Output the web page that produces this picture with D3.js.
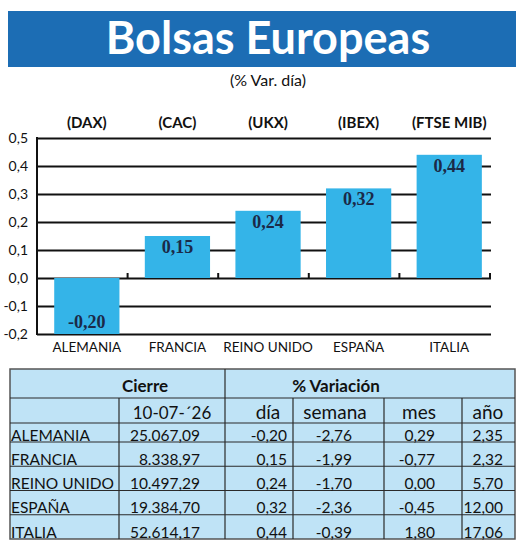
<!DOCTYPE html>
<html>
<head>
<meta charset="utf-8">
<script src="https://cdn.jsdelivr.net/npm/d3@7"></script>
<style>
  body { margin: 0; background: #fff; }
  svg { display: block; }
  .sans { font-family: Lato, "Open Sans", sans-serif; }
</style>
</head>
<body>
<div id="container"></div>
<script>
//******************** DATA ********************//
const paises = ["ALEMANIA", "FRANCIA", "REINO UNIDO", "ESPAÑA", "ITALIA"];
const indices = ["(DAX)", "(CAC)", "(UKX)", "(IBEX)", "(FTSE MIB)"];
const varDia = [-0.20, 0.15, 0.24, 0.32, 0.44];
const yTicks = [-0.2, -0.1, 0.0, 0.1, 0.2, 0.3, 0.4, 0.5];

const fechaCierre = "10-07-´26";
const cierre = [25067.09, 8338.97, 10497.29, 19384.70, 52614.17];
const varSemana = [-2.76, -1.99, -1.70, -2.36, -0.39];
const varMes = [0.29, -0.77, 0.00, -0.45, 1.80];
const varAnio = [2.35, 2.32, 5.70, 12.00, 17.06];
const colHeaders = ["día", "semana", "mes", "año"];

//******************** PREPARING ********************//
const width = 520;
const height = 547;

const es = d3.formatLocale({decimal: ",", thousands: ".", grouping: [3], currency: ["", " €"], minus: "-"});
const f1 = es.format(".1f");
const f2 = es.format(".2f");
const fMiles = es.format(",.2f");

const svg = d3.select("div#container")
    .append("svg")
    .attr("width", width)
    .attr("height", height);

//---------- TITLE ----------//
svg.append("rect")
    .attr("x", 8).attr("y", 11)
    .attr("width", 508).attr("height", 56)
    .attr("fill", "#1c6db4");
svg.append("text")
    .attr("class", "sans")
    .attr("x", 268).attr("y", 54)
    .attr("text-anchor", "middle")
    .attr("fill", "#fff")
    .style("font-size", "45px")
    .style("font-weight", 700)
    .text("Bolsas Europeas");
svg.append("text")
    .attr("class", "sans")
    .attr("x", 268).attr("y", 86)
    .attr("text-anchor", "middle")
    .attr("fill", "#111")
    .style("font-size", "16px")
    .text("(% Var. día)");

//---------- SCALES ----------//
const left = 37, right = 491;
const yScale = d3.scaleLinear().domain([-0.2, 0.5]).range([334, 138]);
const xBand = d3.scaleBand().domain(paises).range([37, 490]);
const barOff = xBand.bandwidth() * 0.19;
const barW = xBand.bandwidth() * 0.72;
const cx = d => xBand(d) + barOff + barW / 2;

//******************** DRAWING ********************//
//---------- GRID / Y AXIS ----------//
const yAxis = d3.axisLeft(yScale)
    .tickValues(yTicks)
    .tickSize(-(right - left))
    .tickPadding(9)
    .tickFormat(f1);
const gy = svg.append("g")
    .attr("transform", `translate(${left},0)`)
    .call(yAxis);
gy.select(".domain").remove();
gy.selectAll("line").attr("stroke", "#111").attr("stroke-width", 2);
gy.selectAll("text")
    .attr("class", "sans")
    .attr("fill", "#111")
    .style("font-size", "14px");

svg.append("line")
    .attr("x1", left).attr("x2", left)
    .attr("y1", yScale(0.5) - 1).attr("y2", yScale(-0.2) + 1)
    .attr("stroke", "#111").attr("stroke-width", 2);

//---------- BARS ----------//
const data = paises.map((p, i) => ({pais: p, indice: indices[i], v: varDia[i]}));

svg.selectAll(".bar")
    .data(data)
    .join("rect")
    .attr("class", "bar")
    .attr("x", d => xBand(d.pais) + barOff)
    .attr("width", barW)
    .attr("y", d => yScale(Math.max(0, d.v)))
    .attr("height", d => Math.abs(yScale(d.v) - yScale(0)))
    .attr("fill", "#34b4e8");

// little ticks on the zero line
svg.selectAll(".xtick")
    .data(paises)
    .join("line")
    .attr("class", "xtick")
    .attr("x1", d => xBand(d) + xBand.step())
    .attr("x2", d => xBand(d) + xBand.step())
    .attr("y1", yScale(0))
    .attr("y2", yScale(0) - 5)
    .attr("stroke", "#111").attr("stroke-width", 2);

//---------- LABELS ----------//
svg.selectAll(".val")
    .data(data)
    .join("text")
    .attr("class", "val")
    .attr("x", d => cx(d.pais))
    .attr("y", d => d.v >= 0 ? yScale(d.v) + 17 : yScale(d.v) - 6)
    .attr("text-anchor", "middle")
    .attr("fill", "#1b2a48")
    .style("font-family", "'Liberation Serif', serif")
    .style("font-weight", 700)
    .style("font-size", "18px")
    .text(d => f2(d.v));

svg.selectAll(".idx")
    .data(data)
    .join("text")
    .attr("class", "idx sans")
    .attr("x", d => cx(d.pais))
    .attr("y", 128)
    .attr("text-anchor", "middle")
    .attr("fill", "#111")
    .style("font-size", "15px")
    .style("font-weight", 700)
    .text(d => d.indice);

svg.selectAll(".cat")
    .data(data)
    .join("text")
    .attr("class", "cat sans")
    .attr("x", d => cx(d.pais))
    .attr("y", 352)
    .attr("text-anchor", "middle")
    .attr("fill", "#111")
    .style("font-size", "13.5px")
    .text(d => d.pais);

//---------- TABLE ----------//
const tX0 = 10, tX1 = 515, tY0 = 369, tY1 = 539;
const hdr1 = 398, hdr2 = 423, rowBottom0 = 442, rowH = 24.25;
const colLines = [119, 225, 293, 384, 462];
const lineCol = "#2a2a2a";

const table = svg.append("g");
table.append("rect")
    .attr("x", tX0).attr("y", tY0)
    .attr("width", tX1 - tX0).attr("height", tY1 - tY0)
    .attr("fill", "#bfe3f6")
    .attr("stroke", "#555").attr("stroke-width", 1.5);

// horizontal lines
const hLines = [hdr1, hdr2].concat(paises.slice(0, 4).map((p, i) => rowBottom0 + i * rowH));
table.selectAll(".hl")
    .data(hLines)
    .join("line")
    .attr("x1", tX0).attr("x2", tX1)
    .attr("y1", d => d).attr("y2", d => d)
    .attr("stroke", lineCol).attr("stroke-width", 1.2);

// vertical lines
table.selectAll(".vl")
    .data(colLines)
    .join("line")
    .attr("x1", d => d).attr("x2", d => d)
    .attr("y1", d => d === 225 ? tY0 : hdr1)
    .attr("y2", tY1)
    .attr("stroke", lineCol).attr("stroke-width", 1.2);

// headers
table.append("text")
    .attr("class", "sans")
    .attr("x", 145).attr("y", 392)
    .attr("text-anchor", "middle")
    .style("font-size", "17px").style("font-weight", 700)
    .attr("fill", "#111")
    .text("Cierre");
table.append("text")
    .attr("class", "sans")
    .attr("x", 336).attr("y", 392)
    .attr("text-anchor", "middle")
    .style("font-size", "17px").style("font-weight", 700)
    .attr("fill", "#111")
    .text("% Variación");

const hdrX = [172, 268, 335, 419, 488];
table.selectAll(".h2")
    .data([fechaCierre].concat(colHeaders))
    .join("text")
    .attr("class", "sans")
    .attr("x", (d, i) => hdrX[i])
    .attr("y", 419)
    .attr("text-anchor", "middle")
    .style("font-size", (d, i) => i === 0 ? "17px" : "19px")
    .attr("fill", "#111")
    .text(d => d);

// rows
const rows = paises.map((p, i) => [p, fMiles(cierre[i]), f2(varDia[i]), f2(varSemana[i]), f2(varMes[i]), f2(varAnio[i])]);
const cellX = [11, 200, 287, 352, 435, 503];

rows.forEach((r, i) => {
    table.selectAll(".r" + i)
        .data(r)
        .join("text")
        .attr("class", "sans")
        .attr("x", (d, j) => cellX[j])
        .attr("y", rowBottom0 + i * rowH - 1.5)
        .attr("text-anchor", (d, j) => j === 0 ? "start" : "end")
        .style("font-size", "15.5px")
        .attr("fill", "#111")
        .text(d => d);
});
</script>
</body>
</html>
